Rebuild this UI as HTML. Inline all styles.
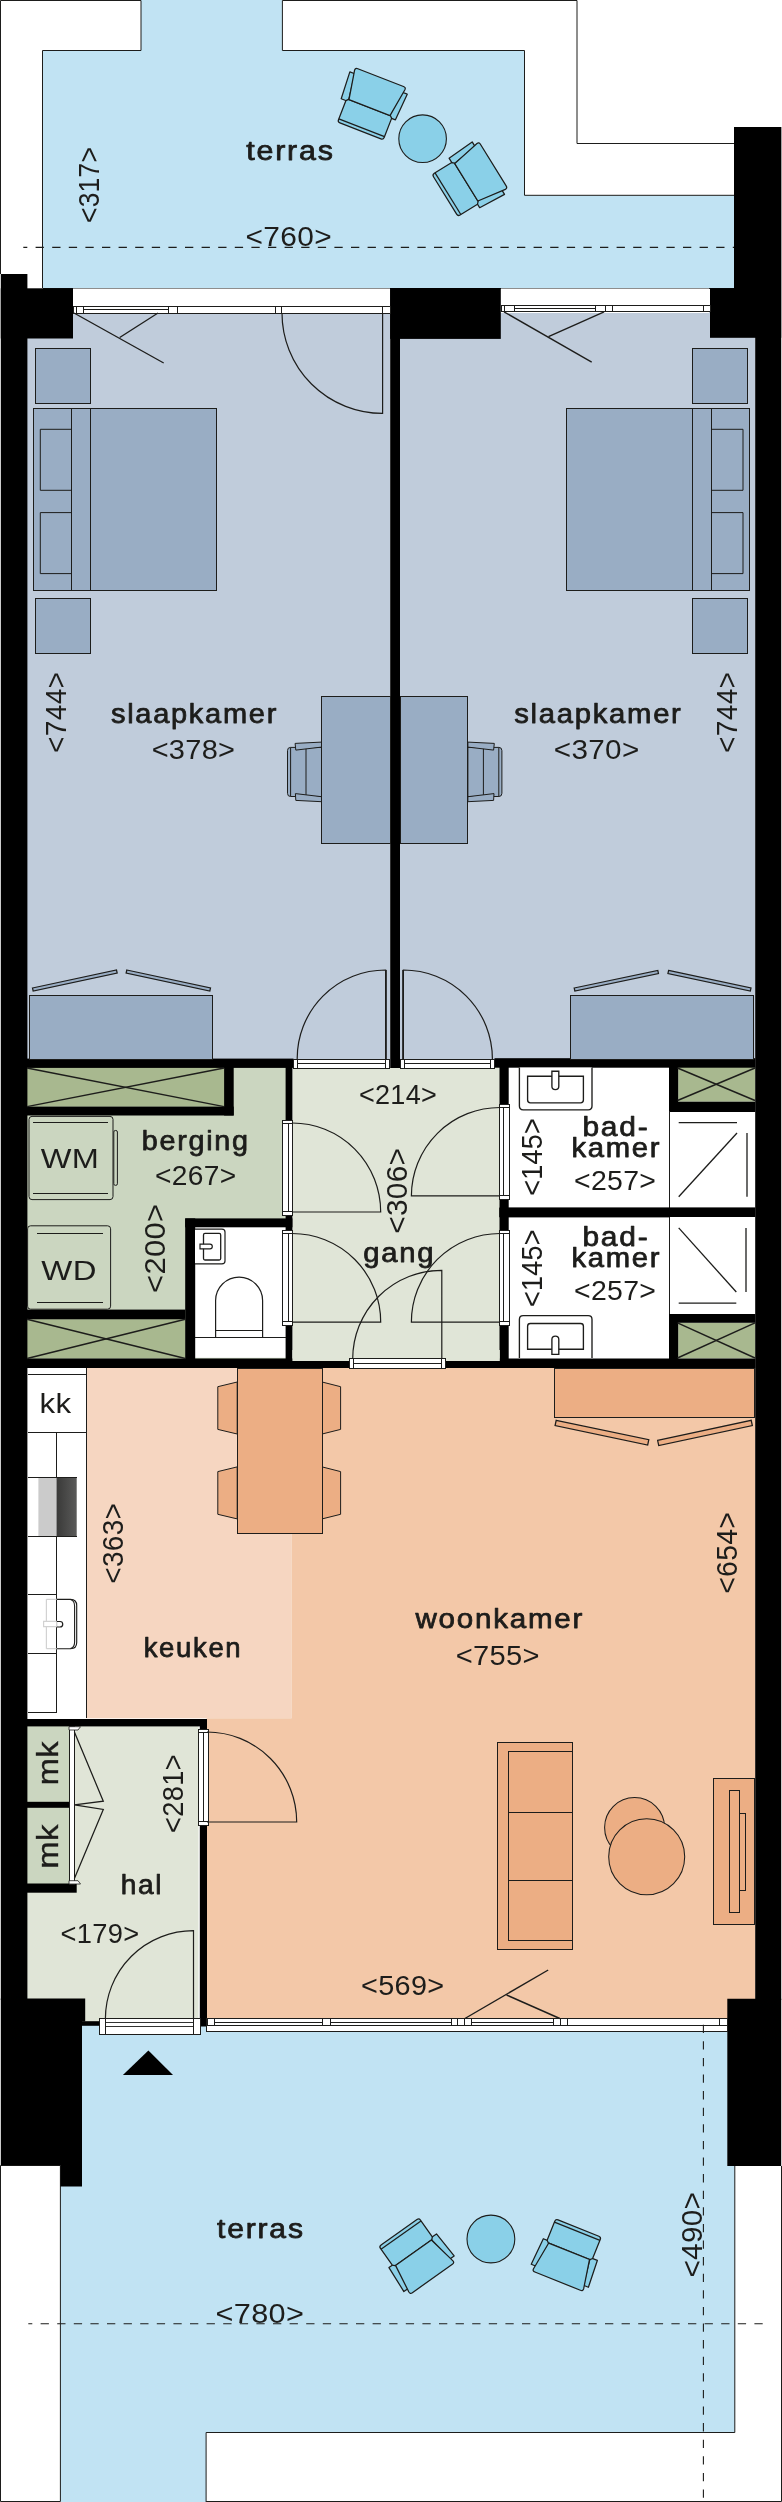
<!DOCTYPE html>
<html lang="nl"><head><meta charset="utf-8"><title>Plattegrond</title>
<style>
html,body{margin:0;padding:0;background:#fff}
svg{display:block;will-change:transform}
text{font-family:"Liberation Sans",sans-serif;fill:#1d1d1b}
</style></head><body>
<svg width="782" height="2502" viewBox="0 0 782 2502">
<rect width="782" height="2502" fill="#fff"/>
<polygon points="42.50,50.50 141.00,50.50 141.00,0.00 282.40,0.00 282.40,50.50 524.50,50.50 524.50,195.30 734.00,195.30 734.00,288.00 42.50,288.00" fill="#c1e3f3" />
<path d="M0.5,274 V0.5 H141 M282.4,0.5 H577 V143.5 H734" fill="none" stroke="#1d1d1b" stroke-width="1" />
<path d="M42.5,288 V50.5 H141 V0.5 M282.4,0.5 V50.5 H524.5 V195.3 H734" fill="none" stroke="#1d1d1b" stroke-width="1" />
<line x1="42.50" y1="288.00" x2="734.00" y2="288.00" stroke="#1d1d1b" stroke-width="1"  shape-rendering="crispEdges"/>
<polygon points="82.00,2025.00 727.60,2025.00 727.60,2166.00 734.80,2166.00 734.80,2432.50 206.10,2432.50 206.10,2502.00 60.40,2502.00 60.40,2186.00 82.00,2186.00" fill="#c1e3f3" />
<path d="M0.5,2165.5 H60.4 V2501.5 H0.5 Z" fill="none" stroke="#1d1d1b" stroke-width="1" />
<path d="M206.1,2502 V2432.5 H734.8 V2166 M781.5,2166 V2501.5 H206.1" fill="none" stroke="#1d1d1b" stroke-width="1" />
<rect x="27.00" y="313.00" width="363.00" height="746.00" fill="#c0ccdb" />
<rect x="400.00" y="311.50" width="355.30" height="747.50" fill="#c0ccdb" />
<rect x="73.00" y="288.50" width="317.00" height="24.50" fill="#fff" />
<rect x="500.80" y="288.50" width="208.20" height="24.50" fill="#fff" />
<rect x="27.00" y="1067.00" width="259.00" height="293.00" fill="#cbd6c0" />
<rect x="27.00" y="1067.00" width="197.10" height="39.60" fill="#a8b88f" />
<rect x="27.00" y="1319.30" width="158.20" height="39.20" fill="#a8b88f" />
<rect x="292.50" y="1067.00" width="207.50" height="293.00" fill="#e0e5d7" />
<rect x="195.00" y="1227.00" width="91.00" height="130.80" fill="#fff" />
<rect x="508.50" y="1067.00" width="246.80" height="291.50" fill="#fff" />
<rect x="678.20" y="1067.00" width="77.10" height="34.70" fill="#a8b88f" />
<rect x="678.20" y="1322.80" width="77.10" height="35.70" fill="#a8b88f" />
<rect x="27.00" y="1367.50" width="59.00" height="351.50" fill="#fff" />
<rect x="86.00" y="1367.50" width="205.60" height="350.80" fill="#f6d6c1" />
<rect x="291.60" y="1367.50" width="463.70" height="351.50" fill="#f3c8a8" />
<rect x="206.50" y="1718.30" width="548.80" height="302.70" fill="#f3c8a8" />
<rect x="27.00" y="1726.00" width="171.50" height="296.00" fill="#e0e5d7" />
<rect x="27.00" y="1726.00" width="42.30" height="158.00" fill="#cbd6c0" />
<rect x="0.80" y="274.00" width="26.60" height="1726.00" fill="#000" />
<rect x="0.80" y="288.30" width="72.20" height="50.20" fill="#000" />
<rect x="755.20" y="127.00" width="26.00" height="1873.00" fill="#000" />
<rect x="734.00" y="127.00" width="47.20" height="210.80" fill="#000" />
<rect x="710.00" y="288.20" width="24.00" height="49.60" fill="#000" />
<rect x="390.20" y="288.00" width="110.60" height="50.90" fill="#000" />
<rect x="390.20" y="288.00" width="9.80" height="780.00" fill="#000" />
<rect x="27.00" y="1058.60" width="266.50" height="9.30" fill="#000" />
<rect x="494.50" y="1058.20" width="260.80" height="9.50" fill="#000" />
<rect x="224.10" y="1067.00" width="9.60" height="48.50" fill="#000" />
<rect x="27.00" y="1106.60" width="206.70" height="8.90" fill="#000" />
<rect x="285.60" y="1059.00" width="6.80" height="309.00" fill="#000" />
<rect x="27.00" y="1309.60" width="158.20" height="9.70" fill="#000" />
<rect x="185.20" y="1218.40" width="10.00" height="149.60" fill="#000" />
<rect x="185.20" y="1218.40" width="107.20" height="8.90" fill="#000" />
<rect x="27.00" y="1358.50" width="323.50" height="9.50" fill="#000" />
<rect x="445.30" y="1358.50" width="310.00" height="9.50" fill="#000" />
<rect x="499.50" y="1059.00" width="9.20" height="309.00" fill="#000" />
<rect x="292.40" y="1350.00" width="207.40" height="11.00" fill="#e0e5d7" />
<rect x="499.50" y="1208.00" width="169.50" height="9.40" fill="#000" />
<rect x="669.00" y="1067.00" width="9.20" height="45.00" fill="#000" />
<rect x="669.00" y="1101.70" width="86.30" height="10.30" fill="#000" />
<rect x="669.00" y="1314.00" width="86.30" height="8.80" fill="#000" />
<rect x="669.00" y="1314.00" width="9.20" height="46.00" fill="#000" />
<rect x="27.00" y="1719.00" width="180.00" height="7.40" fill="#000" />
<rect x="199.80" y="1719.00" width="7.20" height="307.50" fill="#000" />
<rect x="27.00" y="1801.80" width="42.30" height="6.00" fill="#000" />
<rect x="27.00" y="1883.50" width="49.70" height="9.20" fill="#000" />
<polygon points="0.80,1998.60 85.20,1998.60 85.20,2021.40 82.00,2021.40 82.00,2186.50 60.40,2186.50 60.40,2165.30 0.80,2165.30" fill="#000" />
<polygon points="727.30,1998.80 781.20,1998.80 781.20,2166.00 727.30,2166.00" fill="#000" />
<rect x="73.00" y="306.30" width="317.00" height="6.70" fill="#fff" stroke="#1d1d1b" stroke-width="1" shape-rendering="crispEdges" />
<line x1="83.50" y1="309.65" x2="168.20" y2="309.65" stroke="#1d1d1b" stroke-width="1"  shape-rendering="crispEdges"/>
<rect x="73.00" y="306.30" width="3.60" height="6.70" fill="#fff" stroke="#1d1d1b" stroke-width="1" shape-rendering="crispEdges" />
<rect x="76.60" y="306.30" width="6.90" height="6.70" fill="#fff" stroke="#1d1d1b" stroke-width="1" shape-rendering="crispEdges" />
<rect x="168.20" y="306.30" width="8.90" height="6.70" fill="#fff" stroke="#1d1d1b" stroke-width="1" shape-rendering="crispEdges" />
<rect x="275.10" y="306.30" width="6.40" height="6.70" fill="#fff" stroke="#1d1d1b" stroke-width="1" shape-rendering="crispEdges" />
<rect x="382.80" y="306.30" width="7.20" height="6.70" fill="#fff" stroke="#1d1d1b" stroke-width="1" shape-rendering="crispEdges" />
<line x1="74.00" y1="313.00" x2="163.70" y2="363.00" stroke="#1d1d1b" stroke-width="1.35" />
<line x1="158.00" y1="313.00" x2="119.70" y2="337.50" stroke="#1d1d1b" stroke-width="1.35" />
<path d="M382.6,313 V413.4 A100.6,100.4 0 0 1 282,313" fill="none" stroke="#1d1d1b" stroke-width="1.2" />
<rect x="501.00" y="305.10" width="209.00" height="6.60" fill="#fff" stroke="#1d1d1b" stroke-width="1" shape-rendering="crispEdges" />
<line x1="514.60" y1="308.40" x2="595.50" y2="308.40" stroke="#1d1d1b" stroke-width="1"  shape-rendering="crispEdges"/>
<rect x="501.00" y="305.10" width="3.40" height="6.60" fill="#fff" stroke="#1d1d1b" stroke-width="1" shape-rendering="crispEdges" />
<rect x="504.40" y="305.10" width="10.20" height="6.60" fill="#fff" stroke="#1d1d1b" stroke-width="1" shape-rendering="crispEdges" />
<rect x="595.50" y="305.10" width="9.60" height="6.60" fill="#fff" stroke="#1d1d1b" stroke-width="1" shape-rendering="crispEdges" />
<rect x="605.10" y="305.10" width="7.30" height="6.60" fill="#fff" stroke="#1d1d1b" stroke-width="1" shape-rendering="crispEdges" />
<rect x="703.50" y="305.10" width="6.50" height="6.60" fill="#fff" stroke="#1d1d1b" stroke-width="1" shape-rendering="crispEdges" />
<line x1="504.00" y1="311.80" x2="591.70" y2="362.20" stroke="#1d1d1b" stroke-width="1.35" />
<line x1="604.10" y1="311.80" x2="548.50" y2="336.60" stroke="#1d1d1b" stroke-width="1.35" />
<rect x="35.50" y="348.60" width="54.80" height="54.80" fill="#99adc4" stroke="#1d1d1b" stroke-width="1" shape-rendering="crispEdges" />
<rect x="35.50" y="598.60" width="54.80" height="54.60" fill="#99adc4" stroke="#1d1d1b" stroke-width="1" shape-rendering="crispEdges" />
<rect x="33.50" y="408.50" width="183.40" height="182.30" fill="#99adc4" stroke="#1d1d1b" stroke-width="1" shape-rendering="crispEdges" />
<line x1="71.50" y1="408.50" x2="71.50" y2="590.80" stroke="#1d1d1b" stroke-width="1"  shape-rendering="crispEdges"/>
<line x1="90.90" y1="408.50" x2="90.90" y2="590.80" stroke="#1d1d1b" stroke-width="1"  shape-rendering="crispEdges"/>
<path d="M71.5,429.3 H40.3 V490.3 H71.5" fill="none" stroke="#1d1d1b" stroke-width="1" />
<path d="M71.5,512.6 H40.3 V573.6 H71.5" fill="none" stroke="#1d1d1b" stroke-width="1" />
<rect x="692.60" y="348.50" width="55.00" height="55.00" fill="#99adc4" stroke="#1d1d1b" stroke-width="1" shape-rendering="crispEdges" />
<rect x="692.60" y="598.60" width="55.00" height="54.60" fill="#99adc4" stroke="#1d1d1b" stroke-width="1" shape-rendering="crispEdges" />
<rect x="566.10" y="408.50" width="183.60" height="182.30" fill="#99adc4" stroke="#1d1d1b" stroke-width="1" shape-rendering="crispEdges" />
<line x1="692.60" y1="408.50" x2="692.60" y2="590.80" stroke="#1d1d1b" stroke-width="1"  shape-rendering="crispEdges"/>
<line x1="711.60" y1="408.50" x2="711.60" y2="590.80" stroke="#1d1d1b" stroke-width="1"  shape-rendering="crispEdges"/>
<path d="M711.6,429.3 H743 V490.3 H711.6" fill="none" stroke="#1d1d1b" stroke-width="1" />
<path d="M711.6,512.6 H743 V573.6 H711.6" fill="none" stroke="#1d1d1b" stroke-width="1" />
<g fill="#99adc4" stroke="#1d1d1b" stroke-width="1" stroke-linejoin="round">
<path d="M321.5,747.4 H290.5 Q287.5,747.4 287.5,750.6 V793.3 Q287.5,796.5 290.5,796.5 H321.5 Z"/>
<path d="M290.6,747.6 V796.3 M306.0,748 V796" fill="none"/>
<polygon points="295.1,743.4 321.5,742.1 321.5,747.1 295.8,750.1"/>
<polygon points="295.4,793.6 321.5,796.7 321.5,801.7 295.8,800.4"/>
</g>
<g fill="#99adc4" stroke="#1d1d1b" stroke-width="1" stroke-linejoin="round">
<path d="M467.9,747.4 H498.9 Q501.9,747.4 501.9,750.6 V793.3 Q501.9,796.5 498.9,796.5 H467.9 Z"/>
<path d="M498.8,747.6 V796.3 M483.4,748 V796" fill="none"/>
<polygon points="494.3,743.4 467.9,742.1 467.9,747.1 493.6,750.1"/>
<polygon points="494.0,793.6 467.9,796.7 467.9,801.7 493.6,800.4"/>
</g>
<rect x="321.50" y="696.00" width="68.50" height="147.40" fill="#99adc4" stroke="#1d1d1b" stroke-width="1" shape-rendering="crispEdges" />
<rect x="400.00" y="696.00" width="67.90" height="147.40" fill="#99adc4" stroke="#1d1d1b" stroke-width="1" shape-rendering="crispEdges" />
<rect x="29.00" y="995.00" width="183.40" height="64.00" fill="#99adc4" stroke="#1d1d1b" stroke-width="1" shape-rendering="crispEdges" />
<rect x="570.70" y="995.40" width="183.10" height="63.60" fill="#99adc4" stroke="#1d1d1b" stroke-width="1" shape-rendering="crispEdges" />
<polygon points="32.50,988.00 116.50,970.00 117.17,973.13 33.17,991.13" fill="#99adc4" stroke="#1d1d1b" stroke-width="1.25" />
<polygon points="126.80,970.00 210.50,988.00 209.83,991.13 126.13,973.13" fill="#99adc4" stroke="#1d1d1b" stroke-width="1.25" />
<polygon points="574.20,988.00 657.80,970.40 658.46,973.53 574.86,991.13" fill="#99adc4" stroke="#1d1d1b" stroke-width="1.25" />
<polygon points="668.60,970.40 751.00,988.00 750.33,991.13 667.93,973.53" fill="#99adc4" stroke="#1d1d1b" stroke-width="1.25" />
<rect x="293.40" y="1059.00" width="96.20" height="9.00" fill="#fff" stroke="#1d1d1b" stroke-width="1" shape-rendering="crispEdges" />
<line x1="297.40" y1="1063.50" x2="385.40" y2="1063.50" stroke="#1d1d1b" stroke-width="1"  shape-rendering="crispEdges"/>
<rect x="293.40" y="1059.00" width="4.00" height="9.00" fill="#fff" stroke="#1d1d1b" stroke-width="1" shape-rendering="crispEdges" />
<rect x="385.40" y="1059.00" width="4.20" height="9.00" fill="#fff" stroke="#1d1d1b" stroke-width="1" shape-rendering="crispEdges" />
<path d="M385.6,1059 V970 A88.5,88.5 0 0 0 297.2,1059" fill="none" stroke="#1d1d1b" stroke-width="1.2" />
<line x1="386.60" y1="970.00" x2="386.60" y2="1059.00" stroke="#1d1d1b" stroke-width="0.8"  shape-rendering="crispEdges"/>
<rect x="400.40" y="1059.00" width="94.40" height="9.00" fill="#fff" stroke="#1d1d1b" stroke-width="1" shape-rendering="crispEdges" />
<line x1="404.40" y1="1063.50" x2="490.80" y2="1063.50" stroke="#1d1d1b" stroke-width="1"  shape-rendering="crispEdges"/>
<rect x="400.40" y="1059.00" width="4.00" height="9.00" fill="#fff" stroke="#1d1d1b" stroke-width="1" shape-rendering="crispEdges" />
<rect x="490.80" y="1059.00" width="4.00" height="9.00" fill="#fff" stroke="#1d1d1b" stroke-width="1" shape-rendering="crispEdges" />
<path d="M403.4,1059 V970 A89,89 0 0 1 492.4,1059" fill="none" stroke="#1d1d1b" stroke-width="1.2" />
<line x1="402.40" y1="970.00" x2="402.40" y2="1059.00" stroke="#1d1d1b" stroke-width="0.8"  shape-rendering="crispEdges"/>
<line x1="27.00" y1="1068.00" x2="224.10" y2="1106.60" stroke="#1d1d1b" stroke-width="1.4" />
<line x1="27.00" y1="1106.60" x2="224.10" y2="1068.00" stroke="#1d1d1b" stroke-width="1.4" />
<line x1="27.00" y1="1319.30" x2="185.30" y2="1358.50" stroke="#1d1d1b" stroke-width="1.4" />
<line x1="27.00" y1="1358.50" x2="185.30" y2="1319.30" stroke="#1d1d1b" stroke-width="1.4" />
<line x1="677.50" y1="1068.00" x2="755.00" y2="1100.50" stroke="#1d1d1b" stroke-width="1.4" />
<line x1="677.50" y1="1100.50" x2="755.00" y2="1068.00" stroke="#1d1d1b" stroke-width="1.4" />
<line x1="677.50" y1="1322.80" x2="755.00" y2="1358.00" stroke="#1d1d1b" stroke-width="1.4" />
<line x1="677.50" y1="1358.00" x2="755.00" y2="1322.80" stroke="#1d1d1b" stroke-width="1.4" />
<rect x="29.00" y="1116.40" width="84.00" height="83.20" fill="#cbd6c0" stroke="#1d1d1b" stroke-width="1" rx="3"/>
<line x1="33.20" y1="1122.20" x2="108.40" y2="1122.20" stroke="#1d1d1b" stroke-width="1"  shape-rendering="crispEdges"/>
<line x1="33.20" y1="1193.20" x2="108.40" y2="1193.20" stroke="#1d1d1b" stroke-width="1"  shape-rendering="crispEdges"/>
<rect x="113.80" y="1130.50" width="3.60" height="54.80" fill="#cbd6c0" stroke="#1d1d1b" stroke-width="1" rx="1.5"/>
<rect x="27.60" y="1225.80" width="83.00" height="83.40" fill="#cbd6c0" stroke="#1d1d1b" stroke-width="1" rx="3"/>
<line x1="36.80" y1="1233.00" x2="103.40" y2="1233.00" stroke="#1d1d1b" stroke-width="1"  shape-rendering="crispEdges"/>
<line x1="36.80" y1="1302.80" x2="103.40" y2="1302.80" stroke="#1d1d1b" stroke-width="1"  shape-rendering="crispEdges"/>
<path d="M195,1229.1 H222 Q225,1229.1 225,1232 V1261 Q225,1263.8 222,1263.8 H195" fill="#fff" stroke="#1d1d1b" stroke-width="1.2" />
<rect x="203.50" y="1233.40" width="17.20" height="26.60" fill="#fff" stroke="#1d1d1b" stroke-width="1.3" rx="1.5"/>
<path d="M200,1244.2 H210 A2.3,2.3 0 0 1 210,1248.8 H200 Z" fill="#fff" stroke="#1d1d1b" stroke-width="1.2" />
<path d="M215.6,1337.8 V1300.6 A23.5,23.5 0 0 1 262.6,1300.6 V1337.8" fill="#fff" stroke="#1d1d1b" stroke-width="1.2" />
<line x1="215.60" y1="1330.50" x2="262.60" y2="1330.50" stroke="#1d1d1b" stroke-width="1"  shape-rendering="crispEdges"/>
<line x1="195.00" y1="1337.80" x2="285.50" y2="1337.80" stroke="#1d1d1b" stroke-width="1"  shape-rendering="crispEdges"/>
<rect x="282.30" y="1120.00" width="10.60" height="95.50" fill="#fff" stroke="#1d1d1b" stroke-width="1" shape-rendering="crispEdges" />
<line x1="288.40" y1="1123.60" x2="288.40" y2="1211.90" stroke="#1d1d1b" stroke-width="1"  shape-rendering="crispEdges"/>
<line x1="282.30" y1="1123.60" x2="292.90" y2="1123.60" stroke="#1d1d1b" stroke-width="1"  shape-rendering="crispEdges"/>
<line x1="282.30" y1="1211.90" x2="292.90" y2="1211.90" stroke="#1d1d1b" stroke-width="1"  shape-rendering="crispEdges"/>
<rect x="282.30" y="1230.20" width="10.60" height="95.30" fill="#fff" stroke="#1d1d1b" stroke-width="1" shape-rendering="crispEdges" />
<line x1="288.40" y1="1233.80" x2="288.40" y2="1321.90" stroke="#1d1d1b" stroke-width="1"  shape-rendering="crispEdges"/>
<line x1="282.30" y1="1233.80" x2="292.90" y2="1233.80" stroke="#1d1d1b" stroke-width="1"  shape-rendering="crispEdges"/>
<line x1="282.30" y1="1321.90" x2="292.90" y2="1321.90" stroke="#1d1d1b" stroke-width="1"  shape-rendering="crispEdges"/>
<path d="M292.3,1212 H380.7 A88.5,89 0 0 0 292.3,1123" fill="none" stroke="#1d1d1b" stroke-width="1.2" />
<path d="M292.3,1322.1 H380.7 A88.5,88.5 0 0 0 292.3,1233.5" fill="none" stroke="#1d1d1b" stroke-width="1.2" />
<rect x="499.20" y="1104.20" width="10.60" height="95.20" fill="#fff" stroke="#1d1d1b" stroke-width="1" shape-rendering="crispEdges" />
<line x1="503.60" y1="1107.80" x2="503.60" y2="1195.80" stroke="#1d1d1b" stroke-width="1"  shape-rendering="crispEdges"/>
<line x1="499.20" y1="1107.80" x2="509.80" y2="1107.80" stroke="#1d1d1b" stroke-width="1"  shape-rendering="crispEdges"/>
<line x1="499.20" y1="1195.80" x2="509.80" y2="1195.80" stroke="#1d1d1b" stroke-width="1"  shape-rendering="crispEdges"/>
<rect x="499.20" y="1230.20" width="10.60" height="95.30" fill="#fff" stroke="#1d1d1b" stroke-width="1" shape-rendering="crispEdges" />
<line x1="503.60" y1="1233.80" x2="503.60" y2="1321.90" stroke="#1d1d1b" stroke-width="1"  shape-rendering="crispEdges"/>
<line x1="499.20" y1="1233.80" x2="509.80" y2="1233.80" stroke="#1d1d1b" stroke-width="1"  shape-rendering="crispEdges"/>
<line x1="499.20" y1="1321.90" x2="509.80" y2="1321.90" stroke="#1d1d1b" stroke-width="1"  shape-rendering="crispEdges"/>
<path d="M500,1195.8 H411.4 A88.5,88.5 0 0 1 500,1107.5" fill="none" stroke="#1d1d1b" stroke-width="1.2" />
<path d="M500,1322.1 H411.4 A88.5,88.5 0 0 1 500,1233.5" fill="none" stroke="#1d1d1b" stroke-width="1.2" />
<rect x="349.40" y="1358.50" width="96.20" height="9.80" fill="#fff" stroke="#1d1d1b" stroke-width="1" shape-rendering="crispEdges" />
<line x1="353.20" y1="1363.40" x2="441.50" y2="1363.40" stroke="#1d1d1b" stroke-width="1"  shape-rendering="crispEdges"/>
<rect x="349.70" y="1358.50" width="3.50" height="9.80" fill="#fff" stroke="#1d1d1b" stroke-width="1" shape-rendering="crispEdges" />
<rect x="441.50" y="1358.50" width="4.20" height="9.80" fill="#fff" stroke="#1d1d1b" stroke-width="1" shape-rendering="crispEdges" />
<path d="M441.8,1359 V1270.3 A89,88.7 0 0 0 352.7,1359" fill="none" stroke="#1d1d1b" stroke-width="1.2" />
<path d="M519.4,1067.5 V1106 Q519.4,1109.8 523.2,1109.8 H588.2 Q592,1109.8 592,1106 V1067.5" fill="#fff" stroke="#1d1d1b" stroke-width="1.35" />
<path d="M527.6,1076.2 H583.4 V1100 Q583.4,1102.8 580.6,1102.8 H530.4 Q527.6,1102.8 527.6,1100 Z" fill="#fff" stroke="#1d1d1b" stroke-width="1.35" />
<path d="M551.9,1071.2 H558.8 V1086.2 A3.45,3.45 0 0 1 551.9,1086.2 Z" fill="#fff" stroke="#1d1d1b" stroke-width="1.35" />
<path d="M519.4,1358 V1319.4 Q519.4,1315.6 523.2,1315.6 H588.2 Q592,1315.6 592,1319.4 V1358" fill="#fff" stroke="#1d1d1b" stroke-width="1.35" />
<path d="M527.6,1349.2 H583.4 V1326.3 Q583.4,1323.5 580.6,1323.5 H530.4 Q527.6,1323.5 527.6,1326.3 Z" fill="#fff" stroke="#1d1d1b" stroke-width="1.35" />
<path d="M551.9,1354.4 H558.8 V1339.6 A3.45,3.45 0 0 0 551.9,1339.6 Z" fill="#fff" stroke="#1d1d1b" stroke-width="1.35" />
<line x1="669.00" y1="1111.00" x2="669.00" y2="1207.50" stroke="#1d1d1b" stroke-width="1"  shape-rendering="crispEdges"/>
<line x1="669.00" y1="1217.00" x2="669.00" y2="1314.00" stroke="#1d1d1b" stroke-width="1"  shape-rendering="crispEdges"/>
<line x1="678.70" y1="1122.70" x2="737.00" y2="1122.70" stroke="#1d1d1b" stroke-width="1.3" />
<line x1="747.00" y1="1133.00" x2="747.00" y2="1196.80" stroke="#1d1d1b" stroke-width="1.3" />
<line x1="737.00" y1="1133.00" x2="678.70" y2="1196.80" stroke="#1d1d1b" stroke-width="1.3" />
<line x1="678.70" y1="1303.10" x2="736.30" y2="1303.10" stroke="#1d1d1b" stroke-width="1.3" />
<line x1="746.00" y1="1227.90" x2="746.00" y2="1292.00" stroke="#1d1d1b" stroke-width="1.3" />
<line x1="678.70" y1="1227.90" x2="736.30" y2="1292.00" stroke="#1d1d1b" stroke-width="1.3" />
<rect x="499.50" y="1207.40" width="255.80" height="9.60" fill="#000" />
<line x1="86.10" y1="1368.00" x2="86.10" y2="1718.00" stroke="#1d1d1b" stroke-width="1"  shape-rendering="crispEdges"/>
<line x1="27.50" y1="1374.30" x2="86.10" y2="1374.30" stroke="#1d1d1b" stroke-width="1"  shape-rendering="crispEdges"/>
<line x1="27.50" y1="1432.60" x2="86.10" y2="1432.60" stroke="#1d1d1b" stroke-width="1"  shape-rendering="crispEdges"/>
<line x1="56.80" y1="1432.60" x2="56.80" y2="1712.30" stroke="#1d1d1b" stroke-width="1"  shape-rendering="crispEdges"/>
<line x1="27.50" y1="1712.30" x2="56.80" y2="1712.30" stroke="#1d1d1b" stroke-width="1"  shape-rendering="crispEdges"/>
<defs><linearGradient id="hob" x1="0" x2="1" y1="0" y2="0"><stop offset="0" stop-color="#3a3a39"/><stop offset="1" stop-color="#5a5a59"/></linearGradient></defs>
<rect x="38.40" y="1477.20" width="18.40" height="58.80" fill="#cbcbcb" />
<rect x="56.80" y="1477.20" width="19.90" height="58.80" fill="url(#hob)" />
<line x1="27.50" y1="1477.20" x2="76.70" y2="1477.20" stroke="#1d1d1b" stroke-width="1"  shape-rendering="crispEdges"/>
<line x1="27.50" y1="1536.00" x2="76.70" y2="1536.00" stroke="#1d1d1b" stroke-width="1"  shape-rendering="crispEdges"/>
<line x1="27.50" y1="1594.70" x2="56.80" y2="1594.70" stroke="#1d1d1b" stroke-width="1"  shape-rendering="crispEdges"/>
<line x1="27.50" y1="1653.00" x2="56.80" y2="1653.00" stroke="#1d1d1b" stroke-width="1"  shape-rendering="crispEdges"/>
<path d="M46.4,1599.3 H56.8 M46.4,1648.7 H56.8 M46.4,1599.3 V1648.7" fill="none" stroke="#d2d2d2" stroke-width="1.2" />
<path d="M56.8,1599.3 H70.5 Q76.7,1599.3 76.7,1605.5 V1642.5 Q76.7,1648.7 70.5,1648.7 H56.8" fill="none" stroke="#1d1d1b" stroke-width="1.15" />
<path d="M70.5,1599.5 Q74.6,1600.8 74.6,1606 V1642 Q74.6,1647.2 70.5,1648.5" fill="none" stroke="#1d1d1b" stroke-width="1.1" />
<path d="M43.6,1621.4 H56.8 V1626.6 H43.6 Z" fill="#fff" stroke="#d2d2d2" stroke-width="1.2" />
<path d="M56.8,1621.5 H60 A2.75,2.75 0 0 1 60,1627 H56.8" fill="none" stroke="#1d1d1b" stroke-width="1.2" />
<polygon points="237.20,1382.00 217.80,1386.70 217.80,1429.40 237.20,1434.00" fill="#ecae84" stroke="#1d1d1b" stroke-width="1" />
<polygon points="322.10,1382.00 340.60,1386.70 340.60,1429.40 322.10,1434.00" fill="#ecae84" stroke="#1d1d1b" stroke-width="1" />
<polygon points="237.20,1466.90 217.80,1471.60 217.80,1514.30 237.20,1518.90" fill="#ecae84" stroke="#1d1d1b" stroke-width="1" />
<polygon points="322.10,1466.90 340.60,1471.60 340.60,1514.30 322.10,1518.90" fill="#ecae84" stroke="#1d1d1b" stroke-width="1" />
<rect x="237.20" y="1368.00" width="84.90" height="165.60" fill="#ecae84" stroke="#1d1d1b" stroke-width="1" shape-rendering="crispEdges" />
<rect x="554.70" y="1368.00" width="199.60" height="49.20" fill="#ecae84" stroke="#1d1d1b" stroke-width="1" shape-rendering="crispEdges" />
<polygon points="556.20,1420.30 648.80,1439.70 647.69,1444.99 555.09,1425.59" fill="#ecae84" stroke="#1d1d1b" stroke-width="1.25" />
<polygon points="657.60,1440.30 751.20,1420.30 752.33,1425.58 658.73,1445.58" fill="#ecae84" stroke="#1d1d1b" stroke-width="1.25" />
<rect x="497.40" y="1742.20" width="74.90" height="207.70" fill="#ecae84" stroke="#1d1d1b" stroke-width="1" shape-rendering="crispEdges" />
<rect x="508.20" y="1751.50" width="64.10" height="188.80" fill="#ecae84" stroke="#1d1d1b" stroke-width="1" shape-rendering="crispEdges" />
<line x1="508.20" y1="1812.30" x2="572.30" y2="1812.30" stroke="#1d1d1b" stroke-width="1"  shape-rendering="crispEdges"/>
<line x1="508.20" y1="1880.60" x2="572.30" y2="1880.60" stroke="#1d1d1b" stroke-width="1"  shape-rendering="crispEdges"/>
<circle cx="634.6" cy="1827.5" r="30" fill="#ecae84" stroke="#1d1d1b" stroke-width="1.05"/>
<circle cx="646.7" cy="1856.8" r="38" fill="#ecae84" stroke="#1d1d1b" stroke-width="1.05"/>
<rect x="713.30" y="1778.20" width="41.50" height="146.50" fill="#ecae84" stroke="#1d1d1b" stroke-width="1" shape-rendering="crispEdges" />
<rect x="739.60" y="1813.10" width="5.90" height="77.10" fill="#ecae84" stroke="#1d1d1b" stroke-width="1" shape-rendering="crispEdges" />
<rect x="729.20" y="1790.80" width="10.40" height="121.70" fill="#ecae84" stroke="#1d1d1b" stroke-width="1" shape-rendering="crispEdges" />
<rect x="69.30" y="1726.70" width="5.10" height="157.30" fill="#fff" stroke="#1d1d1b" stroke-width="1" shape-rendering="crispEdges" />
<path d="M69,1726.7 H80.5 L78,1730 H69 Z" fill="#fff" stroke="#1d1d1b" stroke-width="0.8" />
<path d="M69,1884 H80.5 L78,1880.7 H69 Z" fill="#fff" stroke="#1d1d1b" stroke-width="0.8" />
<path d="M74.4,1732 L103.3,1801.2 L74.4,1804.8 L103.3,1809.4 L74.4,1878.5" fill="none" stroke="#1d1d1b" stroke-width="1.25" />
<rect x="198.30" y="1729.30" width="9.70" height="95.90" fill="#fff" stroke="#1d1d1b" stroke-width="1" shape-rendering="crispEdges" />
<line x1="203.90" y1="1732.90" x2="203.90" y2="1821.60" stroke="#1d1d1b" stroke-width="1"  shape-rendering="crispEdges"/>
<line x1="198.30" y1="1732.90" x2="208.00" y2="1732.90" stroke="#1d1d1b" stroke-width="1"  shape-rendering="crispEdges"/>
<line x1="198.30" y1="1821.60" x2="208.00" y2="1821.60" stroke="#1d1d1b" stroke-width="1"  shape-rendering="crispEdges"/>
<path d="M207,1822 H296.7 A90,90 0 0 0 207,1732" fill="none" stroke="#1d1d1b" stroke-width="1.2" />
<rect x="99.00" y="2018.80" width="101.30" height="15.20" fill="#fff" stroke="#1d1d1b" stroke-width="1" shape-rendering="crispEdges" />
<rect x="99.00" y="2018.80" width="6.40" height="15.20" fill="#fff" stroke="#1d1d1b" stroke-width="1" shape-rendering="crispEdges" />
<rect x="193.50" y="2018.80" width="6.80" height="15.20" fill="#fff" stroke="#1d1d1b" stroke-width="1" shape-rendering="crispEdges" />
<line x1="105.40" y1="2022.00" x2="193.50" y2="2022.00" stroke="#1d1d1b" stroke-width="0.9"  shape-rendering="crispEdges"/>
<line x1="105.40" y1="2026.80" x2="193.50" y2="2026.80" stroke="#1d1d1b" stroke-width="0.9"  shape-rendering="crispEdges"/>
<path d="M193.5,2018.8 V1930.7 A88,88 0 0 0 105.4,2018.8" fill="none" stroke="#1d1d1b" stroke-width="1.2" />
<rect x="82.00" y="2021.20" width="17.30" height="4.60" fill="#000" />
<polygon points="148.40,2050.40 122.90,2075.00 173.00,2075.00" fill="#000" />
<rect x="206.40" y="2025.40" width="521.10" height="5.60" fill="#fff" stroke="#1d1d1b" stroke-width="1" shape-rendering="crispEdges" />
<rect x="206.70" y="2018.60" width="520.80" height="6.80" fill="#fff" stroke="#1d1d1b" stroke-width="1" shape-rendering="crispEdges" />
<line x1="214.30" y1="2022.00" x2="322.80" y2="2022.00" stroke="#1d1d1b" stroke-width="1"  shape-rendering="crispEdges"/>
<line x1="330.70" y1="2022.00" x2="451.70" y2="2022.00" stroke="#1d1d1b" stroke-width="1"  shape-rendering="crispEdges"/>
<line x1="471.00" y1="2022.00" x2="553.40" y2="2022.00" stroke="#1d1d1b" stroke-width="1"  shape-rendering="crispEdges"/>
<rect x="207.20" y="2018.60" width="7.10" height="6.80" fill="#fff" stroke="#1d1d1b" stroke-width="1" shape-rendering="crispEdges" />
<rect x="322.80" y="2018.60" width="7.90" height="6.80" fill="#fff" stroke="#1d1d1b" stroke-width="1" shape-rendering="crispEdges" />
<rect x="451.70" y="2018.60" width="6.10" height="6.80" fill="#fff" stroke="#1d1d1b" stroke-width="1" shape-rendering="crispEdges" />
<rect x="457.80" y="2018.60" width="6.40" height="6.80" fill="#fff" stroke="#1d1d1b" stroke-width="1" shape-rendering="crispEdges" />
<rect x="464.20" y="2018.60" width="6.80" height="6.80" fill="#fff" stroke="#1d1d1b" stroke-width="1" shape-rendering="crispEdges" />
<rect x="553.40" y="2018.60" width="6.80" height="6.80" fill="#fff" stroke="#1d1d1b" stroke-width="1" shape-rendering="crispEdges" />
<rect x="560.20" y="2018.60" width="7.20" height="6.80" fill="#fff" stroke="#1d1d1b" stroke-width="1" shape-rendering="crispEdges" />
<rect x="719.90" y="2018.60" width="7.20" height="6.80" fill="#fff" stroke="#1d1d1b" stroke-width="1" shape-rendering="crispEdges" />
<line x1="464.90" y1="2018.50" x2="548.20" y2="1970.00" stroke="#1d1d1b" stroke-width="1.4" />
<line x1="559.80" y1="2018.50" x2="506.60" y2="1995.00" stroke="#1d1d1b" stroke-width="1.4" />
<g transform="translate(355.5,67.8) rotate(21.3)" fill="#8ad0e8" stroke="#1d1d1b" stroke-width="1.25" stroke-linejoin="round">
<polygon points="-3.8,5.8 1.5,5.8 5.5,34 -2.1,34"/>
<polygon points="57.8,5.8 52.5,5.8 48.5,34 56.1,34"/>
<path d="M5,32 H50 L52,34 V54.5 Q52,57 49.5,57 H5.5 Q3,57 3,54.5 V34 Z"/>
<path d="M3,53.6 H52" fill="none"/>
<path d="M2.5,0 H51.5 Q54.3,0 54,2.5 L49.5,32 H5.5 L0,2.5 Q-0.3,0 2.5,0 Z"/>
</g>
<g transform="translate(479.1,142.1) rotate(58.3)" fill="#8ad0e8" stroke="#1d1d1b" stroke-width="1.25" stroke-linejoin="round">
<polygon points="-3.8,5.8 1.5,5.8 5.5,34 -2.1,34"/>
<polygon points="57.8,5.8 52.5,5.8 48.5,34 56.1,34"/>
<path d="M5,32 H50 L52,34 V54.5 Q52,57 49.5,57 H5.5 Q3,57 3,54.5 V34 Z"/>
<path d="M3,53.6 H52" fill="none"/>
<path d="M2.5,0 H51.5 Q54.3,0 54,2.5 L49.5,32 H5.5 L0,2.5 Q-0.3,0 2.5,0 Z"/>
</g>
<circle cx="422.6" cy="138.7" r="23.8" fill="#8ad0e8" stroke="#1d1d1b" stroke-width="1.1"/>
<g transform="translate(454.4,2262.9) rotate(144.7)" fill="#8ad0e8" stroke="#1d1d1b" stroke-width="1.25" stroke-linejoin="round">
<polygon points="-3.8,5.8 1.5,5.8 5.5,34 -2.1,34"/>
<polygon points="57.8,5.8 52.5,5.8 48.5,34 56.1,34"/>
<path d="M5,32 H50 L52,34 V54.5 Q52,57 49.5,57 H5.5 Q3,57 3,54.5 V34 Z"/>
<path d="M3,53.6 H52" fill="none"/>
<path d="M2.5,0 H51.5 Q54.3,0 54,2.5 L49.5,32 H5.5 L0,2.5 Q-0.3,0 2.5,0 Z"/>
</g>
<g transform="translate(582.7,2291.2) rotate(201.9)" fill="#8ad0e8" stroke="#1d1d1b" stroke-width="1.25" stroke-linejoin="round">
<polygon points="-3.8,5.8 1.5,5.8 5.5,34 -2.1,34"/>
<polygon points="57.8,5.8 52.5,5.8 48.5,34 56.1,34"/>
<path d="M5,32 H50 L52,34 V54.5 Q52,57 49.5,57 H5.5 Q3,57 3,54.5 V34 Z"/>
<path d="M3,53.6 H52" fill="none"/>
<path d="M2.5,0 H51.5 Q54.3,0 54,2.5 L49.5,32 H5.5 L0,2.5 Q-0.3,0 2.5,0 Z"/>
</g>
<circle cx="490.9" cy="2239" r="23.9" fill="#8ad0e8" stroke="#1d1d1b" stroke-width="1.1"/>
<line x1="23.30" y1="247.40" x2="734.00" y2="247.40" stroke="#1d1d1b" stroke-width="1.1" stroke-dasharray="8.3 8.3" stroke-dashoffset="4.3"/>
<line x1="28.30" y1="2323.80" x2="763.50" y2="2323.80" stroke="#1d1d1b" stroke-width="1.1" stroke-dasharray="8.3 8.3" stroke-dashoffset="4.3"/>
<line x1="703.40" y1="2024.70" x2="703.40" y2="2502.00" stroke="#1d1d1b" stroke-width="1.1" stroke-dasharray="8.3 8.3"/>
<text x="290.5" y="160.2" font-size="27" text-anchor="middle" stroke="#1d1d1b" stroke-width="0.75" stroke-linejoin="round" letter-spacing="1.6" textLength="88.5" lengthAdjust="spacingAndGlyphs">terras</text>
<text transform="translate(99.3,184.9) rotate(-90)" font-size="29.2" text-anchor="middle" letter-spacing="0.3" textLength="76.3" lengthAdjust="spacingAndGlyphs">&lt;317&gt;</text>
<text x="288.8" y="246.2" font-size="28.3" text-anchor="middle" letter-spacing="0.3" textLength="86.4" lengthAdjust="spacingAndGlyphs">&lt;760&gt;</text>
<text x="194.5" y="722.5" font-size="27" text-anchor="middle" stroke="#1d1d1b" stroke-width="0.75" stroke-linejoin="round" letter-spacing="1.6" textLength="167.1" lengthAdjust="spacingAndGlyphs">slaapkamer</text>
<text x="193.5" y="758.6" font-size="28.3" text-anchor="middle" letter-spacing="0.3" textLength="83.7" lengthAdjust="spacingAndGlyphs">&lt;378&gt;</text>
<text transform="translate(66.0,712.3) rotate(-90)" font-size="29.2" text-anchor="middle" letter-spacing="0.3" textLength="81.3" lengthAdjust="spacingAndGlyphs">&lt;744&gt;</text>
<text x="598.4" y="722.5" font-size="27" text-anchor="middle" stroke="#1d1d1b" stroke-width="0.75" stroke-linejoin="round" letter-spacing="1.6" textLength="168.4" lengthAdjust="spacingAndGlyphs">slaapkamer</text>
<text x="596.7" y="758.7" font-size="28.3" text-anchor="middle" letter-spacing="0.3" textLength="85.7" lengthAdjust="spacingAndGlyphs">&lt;370&gt;</text>
<text transform="translate(736.7,712.3) rotate(-90)" font-size="29.2" text-anchor="middle" letter-spacing="0.3" textLength="81.3" lengthAdjust="spacingAndGlyphs">&lt;744&gt;</text>
<text x="398.0" y="1103.8" font-size="28.3" text-anchor="middle" letter-spacing="0.3" textLength="78.2" lengthAdjust="spacingAndGlyphs">&lt;214&gt;</text>
<text x="195.7" y="1149.5" font-size="27" text-anchor="middle" stroke="#1d1d1b" stroke-width="0.75" stroke-linejoin="round" letter-spacing="1.6" textLength="107.8" lengthAdjust="spacingAndGlyphs">berging</text>
<text x="195.7" y="1185.3" font-size="28.3" text-anchor="middle" letter-spacing="0.3" textLength="81.4" lengthAdjust="spacingAndGlyphs">&lt;267&gt;</text>
<text x="70.0" y="1167.7" font-size="27.6" text-anchor="middle" letter-spacing="0.3" textLength="58.5" lengthAdjust="spacingAndGlyphs">WM</text>
<text x="69.1" y="1279.6" font-size="27.6" text-anchor="middle" letter-spacing="0.3" textLength="55.5" lengthAdjust="spacingAndGlyphs">WD</text>
<text transform="translate(164.6,1248.3) rotate(-90)" font-size="29.2" text-anchor="middle" letter-spacing="0.3" textLength="89.3" lengthAdjust="spacingAndGlyphs">&lt;200&gt;</text>
<text transform="translate(406.9,1190.8) rotate(-90)" font-size="29.2" text-anchor="middle" letter-spacing="0.3" textLength="85.9" lengthAdjust="spacingAndGlyphs">&lt;306&gt;</text>
<text x="399.2" y="1261.8" font-size="27" text-anchor="middle" stroke="#1d1d1b" stroke-width="0.75" stroke-linejoin="round" letter-spacing="1.6" textLength="72.0" lengthAdjust="spacingAndGlyphs">gang</text>
<text x="615.9" y="1136.0" font-size="27" text-anchor="middle" stroke="#1d1d1b" stroke-width="0.75" stroke-linejoin="round" letter-spacing="1.6" textLength="67.0" lengthAdjust="spacingAndGlyphs">bad-</text>
<text x="616.4" y="1157.3" font-size="27" text-anchor="middle" stroke="#1d1d1b" stroke-width="0.75" stroke-linejoin="round" letter-spacing="1.6" textLength="89.9" lengthAdjust="spacingAndGlyphs">kamer</text>
<text x="615.1" y="1189.6" font-size="28.3" text-anchor="middle" letter-spacing="0.3" textLength="82.2" lengthAdjust="spacingAndGlyphs">&lt;257&gt;</text>
<text transform="translate(542.2,1156.8) rotate(-90)" font-size="29.2" text-anchor="middle" letter-spacing="0.3" textLength="77.8" lengthAdjust="spacingAndGlyphs">&lt;145&gt;</text>
<text x="615.9" y="1245.9" font-size="27" text-anchor="middle" stroke="#1d1d1b" stroke-width="0.75" stroke-linejoin="round" letter-spacing="1.6" textLength="67.0" lengthAdjust="spacingAndGlyphs">bad-</text>
<text x="616.4" y="1267.3" font-size="27" text-anchor="middle" stroke="#1d1d1b" stroke-width="0.75" stroke-linejoin="round" letter-spacing="1.6" textLength="89.9" lengthAdjust="spacingAndGlyphs">kamer</text>
<text x="615.1" y="1299.5" font-size="28.3" text-anchor="middle" letter-spacing="0.3" textLength="82.2" lengthAdjust="spacingAndGlyphs">&lt;257&gt;</text>
<text transform="translate(542.2,1268.1) rotate(-90)" font-size="29.2" text-anchor="middle" letter-spacing="0.3" textLength="77.8" lengthAdjust="spacingAndGlyphs">&lt;145&gt;</text>
<text x="55.4" y="1412.8" font-size="27.4" text-anchor="middle" letter-spacing="0.3" textLength="31.9" lengthAdjust="spacingAndGlyphs">kk</text>
<text transform="translate(122.9,1543.3) rotate(-90)" font-size="29.2" text-anchor="middle" letter-spacing="0.3" textLength="80.9" lengthAdjust="spacingAndGlyphs">&lt;363&gt;</text>
<text x="193.0" y="1656.6" font-size="27" text-anchor="middle" stroke="#1d1d1b" stroke-width="0.75" stroke-linejoin="round" letter-spacing="1.6" textLength="98.6" lengthAdjust="spacingAndGlyphs">keuken</text>
<text x="499.8" y="1627.6" font-size="27" text-anchor="middle" stroke="#1d1d1b" stroke-width="0.75" stroke-linejoin="round" letter-spacing="1.6" textLength="168.6" lengthAdjust="spacingAndGlyphs">woonkamer</text>
<text x="497.7" y="1664.5" font-size="28.3" text-anchor="middle" letter-spacing="0.3" textLength="84.1" lengthAdjust="spacingAndGlyphs">&lt;755&gt;</text>
<text transform="translate(736.8,1552.8) rotate(-90)" font-size="29.2" text-anchor="middle" letter-spacing="0.3" textLength="82.1" lengthAdjust="spacingAndGlyphs">&lt;654&gt;</text>
<text transform="translate(57.9,1763.2) rotate(-90)" font-size="29" text-anchor="middle" letter-spacing="0.3" stroke="#1d1d1b" stroke-width="0.35" textLength="44.2" lengthAdjust="spacingAndGlyphs">mk</text>
<text transform="translate(57.9,1846.4) rotate(-90)" font-size="29" text-anchor="middle" letter-spacing="0.3" stroke="#1d1d1b" stroke-width="0.35" textLength="44.7" lengthAdjust="spacingAndGlyphs">mk</text>
<text transform="translate(183.2,1793.5) rotate(-90)" font-size="29.2" text-anchor="middle" letter-spacing="0.3" textLength="78.9" lengthAdjust="spacingAndGlyphs">&lt;281&gt;</text>
<text x="142.0" y="1894.2" font-size="27" text-anchor="middle" stroke="#1d1d1b" stroke-width="0.75" stroke-linejoin="round" letter-spacing="1.6" textLength="42.5" lengthAdjust="spacingAndGlyphs">hal</text>
<text x="100.0" y="1943.0" font-size="28.3" text-anchor="middle" letter-spacing="0.3" textLength="78.8" lengthAdjust="spacingAndGlyphs">&lt;179&gt;</text>
<text x="402.8" y="1995.0" font-size="28.3" text-anchor="middle" letter-spacing="0.3" textLength="83.4" lengthAdjust="spacingAndGlyphs">&lt;569&gt;</text>
<text x="260.9" y="2237.6" font-size="27" text-anchor="middle" stroke="#1d1d1b" stroke-width="0.75" stroke-linejoin="round" letter-spacing="1.6" textLength="87.7" lengthAdjust="spacingAndGlyphs">terras</text>
<text x="259.9" y="2322.8" font-size="28.3" text-anchor="middle" letter-spacing="0.3" textLength="88.7" lengthAdjust="spacingAndGlyphs">&lt;780&gt;</text>
<text transform="translate(702.1,2234.7) rotate(-90)" font-size="29.2" text-anchor="middle" letter-spacing="0.3" textLength="85.8" lengthAdjust="spacingAndGlyphs">&lt;490&gt;</text>
</svg>
</body></html>
